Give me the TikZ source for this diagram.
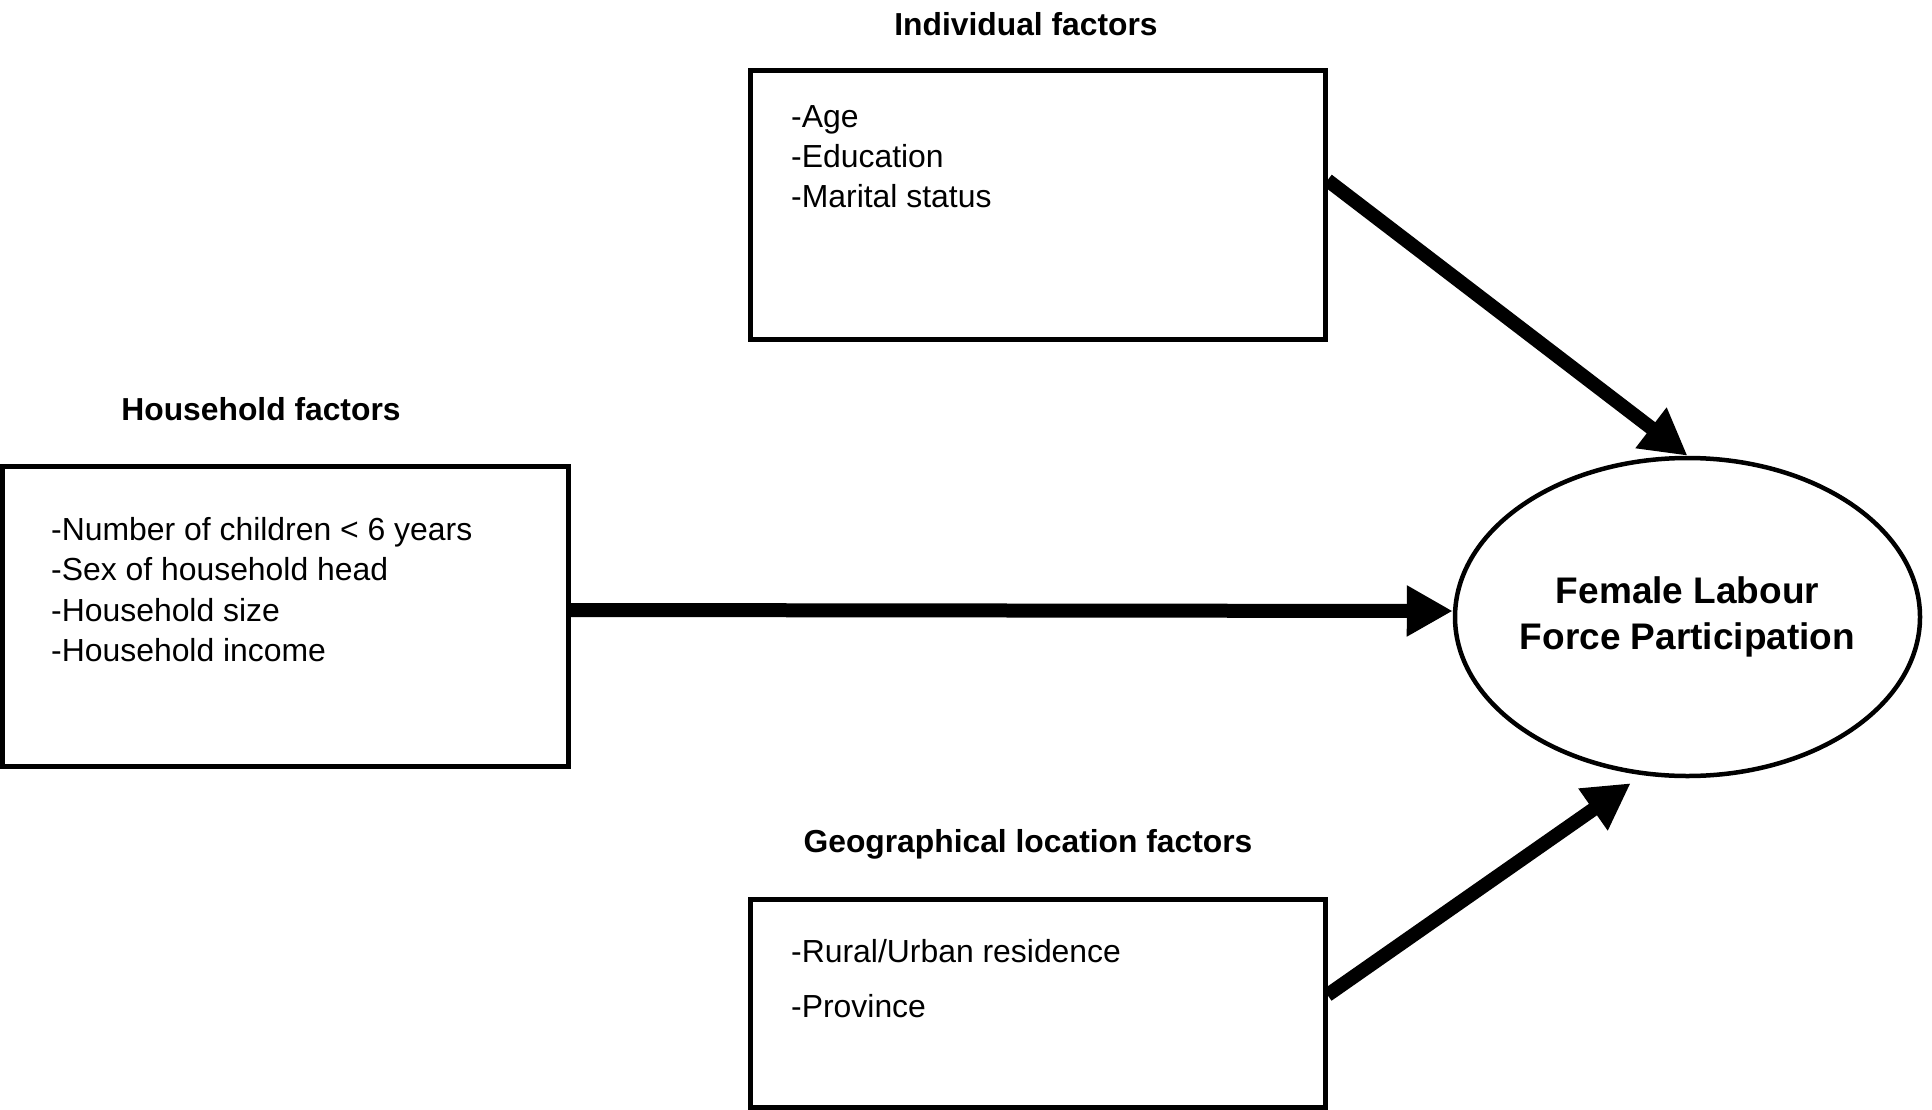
\documentclass[tikz,border=0pt]{standalone}
\usepackage{fontspec}
\setmainfont{Liberation Sans}
\usetikzlibrary{arrows.meta,shapes.geometric}
\begin{document}
\begin{tikzpicture}[x=1pt,y=-1pt,
  box/.style={draw, line width=5pt, inner sep=0pt},
  oval/.style={draw, ellipse, line width=4.5pt, inner sep=0pt},
  item/.style={anchor=base west, inner sep=0pt, font=\fontsize{31.9}{38}\selectfont},
  title/.style={anchor=base, inner sep=0pt, font=\fontsize{31.8}{38}\selectfont\bfseries},
  flow/.style={line width=14pt, -{Triangle[length=46pt,width=48pt]}}]
\useasboundingbox (0,0) rectangle (1932,1110);

% boxes
\node[box, minimum width=575pt, minimum height=268.5pt] (ind) at (1037.5,205.25) {};
\node[box, minimum width=566pt, minimum height=300pt] (hh) at (285,616) {};
\node[box, minimum width=575pt, minimum height=208pt] (geo) at (1037.5,1003) {};
\node[oval, minimum width=465pt, minimum height=318pt] (flfp) at (1687.5,617) {};

% titles
\node[title] (tind) at (1026,36) {Individual factors};
\node[title] (thh) at (261,420) {Household factors};
\node[title] (tgeo) at (1028,852) {Geographical location factors};

% individual items
\node[item] (i1) at (791,128) {-Age};
\node[item] (i2) at (791,168) {-Education};
\node[item] (i3) at (791,207.5) {-Marital status};

% household items
\node[item] (h1) at (51,540) {-Number of children < 6 years};
\node[item] (h2) at (51,580.5) {-Sex of household head};
\node[item] (h3) at (51,621) {-Household size};
\node[item] (h4) at (51,661) {-Household income};

% geographical items
\node[item] (g1) at (791,962) {-Rural/Urban residence};
\node[item] (g2) at (791,1017) {-Province};

% outcome text
\node[align=center, inner sep=0pt, font=\fontsize{37}{46}\selectfont\bfseries] (flfptext) at (flfp.center) {Female Labour\\Force Participation};

% arrows
\draw[flow] ([yshift=25pt]ind.east) -- (flfp.north);
\draw[flow] ([yshift=6pt]hh.east) -- ([yshift=6pt]flfp.west);
\draw[flow, shorten >=14pt] ([yshift=8pt]geo.east) -- (flfp.254);
\end{tikzpicture}
\end{document}
